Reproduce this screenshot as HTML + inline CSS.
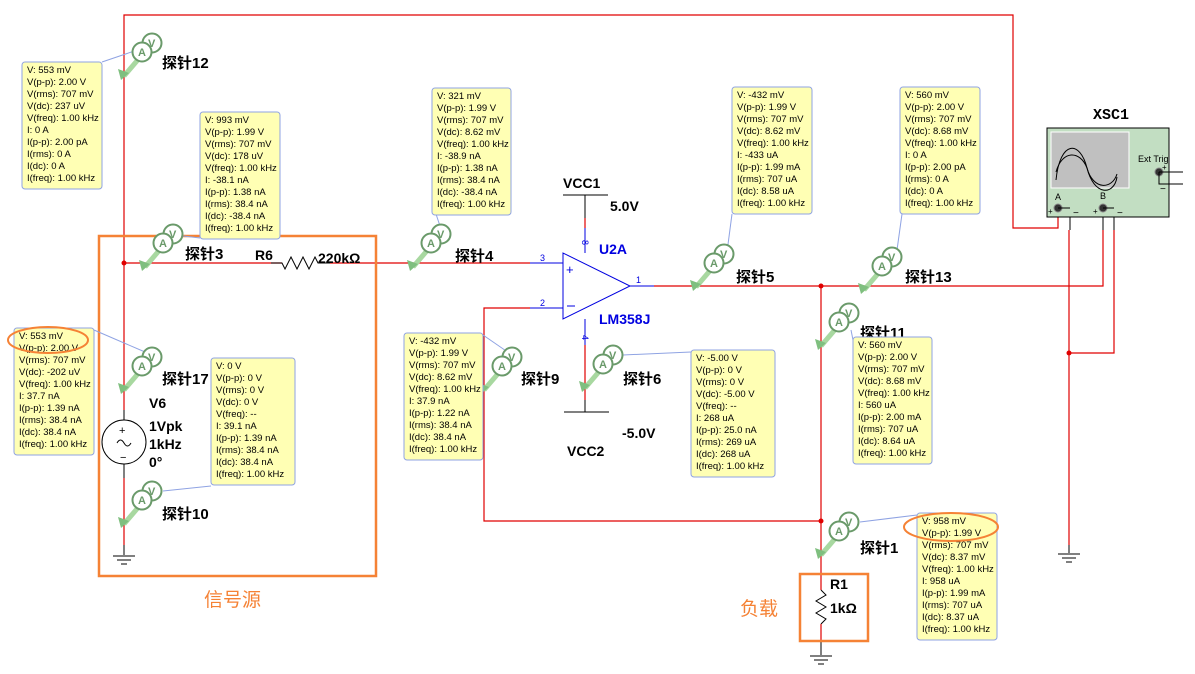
<!DOCTYPE html>
<html><head><meta charset="utf-8"><style>
html,body{margin:0;padding:0;background:#fff;}
svg{display:block;font-family:"Liberation Sans","Noto Sans CJK SC",sans-serif;}
.w{stroke:#e00000;stroke-width:1.2;fill:none}
.b{stroke:#000;stroke-width:1;fill:none}
.bl{stroke:#0000e0;stroke-width:1;fill:none}
.box{fill:#ffffb4;stroke:#8fa3e3;stroke-width:1}
.lead{stroke:#8fa3e3;stroke-width:1;fill:none}
.t{font-size:9.5px;fill:#000}
.lb{font-size:15px;font-weight:bold;fill:#000}
.nm{font-size:14px;font-weight:bold;fill:#000}
.pc{fill:#fff;stroke:#6a9a6a;stroke-width:2}
.pt{font-size:11px;fill:#6a9a6a;font-weight:bold}
</style></head><body>
<svg width="1195" height="674" viewBox="0 0 1195 674" xmlns="http://www.w3.org/2000/svg">
<defs>
<g id="probe">
 <line x1="0" y1="0" x2="18" y2="-21" stroke="#a8d8a0" stroke-width="5"/>
 <polygon points="-3,4 -6,-7 5,-3" fill="#7fbf7f"/>
 <circle cx="28" cy="-33" r="9.5" class="pc"/><text x="24" y="-29" class="pt">V</text>
 <circle cx="18" cy="-24" r="9.5" class="pc"/><text x="14" y="-20" class="pt">A</text>
</g>
</defs>
<!-- wires -->
<polyline class="w" points="124,410 124,15 1013,15 1013,228 1058,228 1058,210"/>
<line class="b" x1="124" y1="410" x2="124" y2="420"/>
<line class="b" x1="124" y1="464" x2="124" y2="478"/>
<line class="w" x1="124" y1="478" x2="124" y2="545"/>
<line class="b" x1="124" y1="545" x2="124" y2="555"/>
<line class="b" x1="113" y1="556" x2="135" y2="556"/><line class="b" x1="117" y1="560" x2="131" y2="560"/><line class="b" x1="121" y1="564" x2="127" y2="564"/>
<line class="w" x1="124" y1="263" x2="282" y2="263"/>
<polyline class="b" points="271,263 282,263 285,269 291,257 297,269 303,257 309,269 315,257 318,263 330,263"/>
<line class="w" x1="330" y1="263" x2="530" y2="263"/>
<line class="bl" x1="530" y1="263" x2="563" y2="263"/>
<polyline class="w" points="530,308 484,308 484,521 821,521"/>
<line class="bl" x1="530" y1="308" x2="563" y2="308"/>
<polygon class="bl" points="563,253 563,319 630,286"/>
<text x="566" y="274" fill="#0000e0" font-size="13">+</text>
<line x1="567" y1="306" x2="575" y2="306" stroke="#0000e0"/>
<line class="bl" x1="630" y1="286" x2="654" y2="286"/>
<polyline class="w" points="654,286 1103,286 1103,230"/>
<line class="b" x1="1103" y1="230" x2="1103" y2="210"/>
<line class="b" x1="563" y1="195" x2="608" y2="195"/>
<line class="b" x1="585" y1="195" x2="585" y2="218"/>
<line class="w" x1="585" y1="218" x2="585" y2="228"/>
<line class="bl" x1="585" y1="228" x2="585" y2="253"/>
<line class="bl" x1="585" y1="319" x2="585" y2="345"/>
<line class="w" x1="585" y1="345" x2="585" y2="400"/>
<line class="b" x1="585" y1="400" x2="585" y2="412"/>
<line class="b" x1="564" y1="412" x2="609" y2="412"/>
<line class="w" x1="821" y1="286" x2="821" y2="590"/>
<polyline class="b" points="821,590 826,595 816,601 826,607 816,613 826,619 821,624"/>
<line class="w" x1="821" y1="624" x2="821" y2="641"/>
<line class="b" x1="821" y1="641" x2="821" y2="655"/>
<line class="b" x1="810" y1="656" x2="832" y2="656"/><line class="b" x1="814" y1="660" x2="828" y2="660"/><line class="b" x1="818" y1="664" x2="824" y2="664"/>
<polyline class="w" points="1114,230 1114,353 1069,353"/>
<line class="b" x1="1114" y1="208" x2="1114" y2="230"/>
<line class="b" x1="1070" y1="208" x2="1070" y2="230"/>
<line class="w" x1="1069" y1="230" x2="1069" y2="545"/>
<line class="b" x1="1069" y1="545" x2="1069" y2="553"/>
<line class="b" x1="1058" y1="554" x2="1080" y2="554"/><line class="b" x1="1062" y1="558" x2="1076" y2="558"/><line class="b" x1="1066" y1="562" x2="1072" y2="562"/>
<g fill="#e00000"><circle cx="124" cy="263" r="2.5"/><circle cx="821" cy="286" r="2.5"/><circle cx="821" cy="521" r="2.5"/><circle cx="1069" cy="353" r="2.5"/></g>
<!-- source -->
<circle cx="124" cy="442" r="22" fill="#fff" stroke="#000"/>
<text x="119" y="434" font-size="11">+</text><text x="120" y="461" font-size="11">−</text>
<path d="M117,443 q3.5,-6 7,0 t7,0" class="b"/>
<text x="149" y="408" class="nm">V6</text><text x="149" y="431" class="nm">1Vpk</text><text x="149" y="449" class="nm">1kHz</text><text x="149" y="467" class="nm">0°</text>
<!-- labels -->
<text x="255" y="260" class="nm">R6</text><text x="318" y="263" class="nm">220kΩ</text>
<text x="563" y="188" class="nm">VCC1</text><text x="610" y="211" class="nm">5.0V</text>
<text x="599" y="254" class="nm" style="fill:#0000e0">U2A</text>
<text x="599" y="324" class="nm" style="fill:#0000e0">LM358J</text>
<text x="567" y="456" class="nm">VCC2</text><text x="622" y="438" class="nm">-5.0V</text>
<g font-size="9" fill="#0000e0"><text x="540" y="261">3</text><text x="540" y="306">2</text><text x="636" y="283">1</text>
<text x="582" y="240" transform="rotate(90 582 240)">8</text><text x="582" y="335" transform="rotate(90 582 335)">4</text></g>
<text x="830" y="589" class="nm">R1</text><text x="830" y="613" class="nm">1kΩ</text>
<!-- scope -->
<text x="1093" y="119" font-family="Liberation Mono,monospace" font-weight="bold" font-size="15">XSC1</text>
<rect x="1047" y="128" width="122" height="89" fill="#c2dec2" stroke="#000"/>
<rect x="1051" y="132" width="78" height="56" fill="#c0c0c0" stroke="#fff"/>
<path d="M1056,180 C1060,140 1080,140 1087,168 C1094,196 1114,196 1117,177" class="b"/>
<path d="M1056,172 C1062,150 1080,150 1087,168 C1093,190 1112,190 1117,174" class="b"/>
<text x="1138" y="162" font-size="9">Ext Trig</text>
<circle cx="1159" cy="172" r="4" fill="#333" stroke="#888"/>
<polyline class="b" points="1159,172 1183,172"/><polyline class="b" points="1159,172 1159,184 1183,184"/>
<text x="1055" y="200" font-size="9">A</text><text x="1100" y="199" font-size="9">B</text>
<circle cx="1058" cy="208" r="4" fill="#333" stroke="#888"/><circle cx="1103" cy="208" r="4" fill="#333" stroke="#888"/>
<polyline class="b" points="1058,208 1070,208"/><polyline class="b" points="1103,208 1114,208"/>
<text x="1048" y="214" font-size="8">+</text><text x="1073" y="216" font-size="10">−</text>
<text x="1093" y="214" font-size="8">+</text><text x="1117" y="216" font-size="10">−</text>
<text x="1162" y="170" font-size="8">+</text><text x="1160" y="192" font-size="10">−</text>
<!-- orange -->
<rect x="99" y="236" width="277" height="340" fill="none" stroke="#f58235" stroke-width="2.5"/>
<rect x="800" y="574" width="68" height="67" fill="none" stroke="#f58235" stroke-width="2.5"/>
<text x="204" y="606" font-size="19" fill="#f58235">信号源</text>
<text x="740" y="615" font-size="19" fill="#f58235">负载</text>
<!-- leaders -->
<g class="lead">
<line x1="102" y1="62" x2="152" y2="45"/><line x1="200" y1="238" x2="175" y2="235"/>
<line x1="436" y1="214" x2="442" y2="232"/><line x1="732" y1="214" x2="727" y2="252"/>
<line x1="902" y1="214" x2="897" y2="250"/><line x1="853" y1="340" x2="851" y2="330"/>
<line x1="483" y1="335" x2="512" y2="355"/><line x1="691" y1="352" x2="623" y2="355"/>
<line x1="94" y1="330" x2="145" y2="352"/><line x1="211" y1="486" x2="163" y2="491"/>
<line x1="917" y1="515" x2="860" y2="522"/>
</g>
<!-- probes -->
<use href="#probe" x="124" y="76"/><use href="#probe" x="145" y="267"/><use href="#probe" x="413" y="267"/>
<use href="#probe" x="696" y="287"/><use href="#probe" x="864" y="290"/><use href="#probe" x="821" y="346"/>
<use href="#probe" x="484" y="390"/><use href="#probe" x="585" y="388"/><use href="#probe" x="124" y="390"/>
<use href="#probe" x="124" y="524"/><use href="#probe" x="821" y="555"/>
<g class="lb">
<text x="162" y="68">探针12</text><text x="185" y="259">探针3</text><text x="455" y="261">探针4</text>
<text x="736" y="282">探针5</text><text x="905" y="282">探针13</text><text x="860" y="338">探针11</text>
<text x="521" y="384">探针9</text><text x="623" y="384">探针6</text><text x="162" y="384">探针17</text>
<text x="162" y="519">探针10</text><text x="860" y="553">探针1</text>
</g>
<!-- info boxes -->
<g class="t">
<rect class="box" x="22" y="62" width="80" height="127" rx="3"/>
<text x="27" y="73">V: 553 mV</text><text x="27" y="85">V(p-p): 2.00 V</text><text x="27" y="97">V(rms): 707 mV</text><text x="27" y="109">V(dc): 237 uV</text><text x="27" y="121">V(freq): 1.00 kHz</text><text x="27" y="133">I: 0 A</text><text x="27" y="145">I(p-p): 2.00 pA</text><text x="27" y="157">I(rms): 0 A</text><text x="27" y="169">I(dc): 0 A</text><text x="27" y="181">I(freq): 1.00 kHz</text>
<rect class="box" x="200" y="112" width="80" height="127" rx="3"/>
<text x="205" y="123">V: 993 mV</text><text x="205" y="135">V(p-p): 1.99 V</text><text x="205" y="147">V(rms): 707 mV</text><text x="205" y="159">V(dc): 178 uV</text><text x="205" y="171">V(freq): 1.00 kHz</text><text x="205" y="183">I: -38.1 nA</text><text x="205" y="195">I(p-p): 1.38 nA</text><text x="205" y="207">I(rms): 38.4 nA</text><text x="205" y="219">I(dc): -38.4 nA</text><text x="205" y="231">I(freq): 1.00 kHz</text>
<rect class="box" x="432" y="88" width="79" height="127" rx="3"/>
<text x="437" y="99">V: 321 mV</text><text x="437" y="111">V(p-p): 1.99 V</text><text x="437" y="123">V(rms): 707 mV</text><text x="437" y="135">V(dc): 8.62 mV</text><text x="437" y="147">V(freq): 1.00 kHz</text><text x="437" y="159">I: -38.9 nA</text><text x="437" y="171">I(p-p): 1.38 nA</text><text x="437" y="183">I(rms): 38.4 nA</text><text x="437" y="195">I(dc): -38.4 nA</text><text x="437" y="207">I(freq): 1.00 kHz</text>
<rect class="box" x="732" y="87" width="80" height="127" rx="3"/>
<text x="737" y="98">V: -432 mV</text><text x="737" y="110">V(p-p): 1.99 V</text><text x="737" y="122">V(rms): 707 mV</text><text x="737" y="134">V(dc): 8.62 mV</text><text x="737" y="146">V(freq): 1.00 kHz</text><text x="737" y="158">I: -433 uA</text><text x="737" y="170">I(p-p): 1.99 mA</text><text x="737" y="182">I(rms): 707 uA</text><text x="737" y="194">I(dc): 8.58 uA</text><text x="737" y="206">I(freq): 1.00 kHz</text>
<rect class="box" x="900" y="87" width="80" height="127" rx="3"/>
<text x="905" y="98">V: 560 mV</text><text x="905" y="110">V(p-p): 2.00 V</text><text x="905" y="122">V(rms): 707 mV</text><text x="905" y="134">V(dc): 8.68 mV</text><text x="905" y="146">V(freq): 1.00 kHz</text><text x="905" y="158">I: 0 A</text><text x="905" y="170">I(p-p): 2.00 pA</text><text x="905" y="182">I(rms): 0 A</text><text x="905" y="194">I(dc): 0 A</text><text x="905" y="206">I(freq): 1.00 kHz</text>
<rect class="box" x="853" y="337" width="79" height="127" rx="3"/>
<text x="858" y="348">V: 560 mV</text><text x="858" y="360">V(p-p): 2.00 V</text><text x="858" y="372">V(rms): 707 mV</text><text x="858" y="384">V(dc): 8.68 mV</text><text x="858" y="396">V(freq): 1.00 kHz</text><text x="858" y="408">I: 560 uA</text><text x="858" y="420">I(p-p): 2.00 mA</text><text x="858" y="432">I(rms): 707 uA</text><text x="858" y="444">I(dc): 8.64 uA</text><text x="858" y="456">I(freq): 1.00 kHz</text>
<rect class="box" x="404" y="333" width="79" height="127" rx="3"/>
<text x="409" y="344">V: -432 mV</text><text x="409" y="356">V(p-p): 1.99 V</text><text x="409" y="368">V(rms): 707 mV</text><text x="409" y="380">V(dc): 8.62 mV</text><text x="409" y="392">V(freq): 1.00 kHz</text><text x="409" y="404">I: 37.9 nA</text><text x="409" y="416">I(p-p): 1.22 nA</text><text x="409" y="428">I(rms): 38.4 nA</text><text x="409" y="440">I(dc): 38.4 nA</text><text x="409" y="452">I(freq): 1.00 kHz</text>
<rect class="box" x="691" y="350" width="84" height="127" rx="3"/>
<text x="696" y="361">V: -5.00 V</text><text x="696" y="373">V(p-p): 0 V</text><text x="696" y="385">V(rms): 0 V</text><text x="696" y="397">V(dc): -5.00 V</text><text x="696" y="409">V(freq): --</text><text x="696" y="421">I: 268 uA</text><text x="696" y="433">I(p-p): 25.0 nA</text><text x="696" y="445">I(rms): 269 uA</text><text x="696" y="457">I(dc): 268 uA</text><text x="696" y="469">I(freq): 1.00 kHz</text>
<rect class="box" x="14" y="328" width="80" height="127" rx="3"/>
<text x="19" y="339">V: 553 mV</text><text x="19" y="351">V(p-p): 2.00 V</text><text x="19" y="363">V(rms): 707 mV</text><text x="19" y="375">V(dc): -202 uV</text><text x="19" y="387">V(freq): 1.00 kHz</text><text x="19" y="399">I: 37.7 nA</text><text x="19" y="411">I(p-p): 1.39 nA</text><text x="19" y="423">I(rms): 38.4 nA</text><text x="19" y="435">I(dc): 38.4 nA</text><text x="19" y="447">I(freq): 1.00 kHz</text>
<rect class="box" x="211" y="358" width="84" height="127" rx="3"/>
<text x="216" y="369">V: 0 V</text><text x="216" y="381">V(p-p): 0 V</text><text x="216" y="393">V(rms): 0 V</text><text x="216" y="405">V(dc): 0 V</text><text x="216" y="417">V(freq): --</text><text x="216" y="429">I: 39.1 nA</text><text x="216" y="441">I(p-p): 1.39 nA</text><text x="216" y="453">I(rms): 38.4 nA</text><text x="216" y="465">I(dc): 38.4 nA</text><text x="216" y="477">I(freq): 1.00 kHz</text>
<rect class="box" x="917" y="513" width="80" height="127" rx="3"/>
<text x="922" y="524">V: 958 mV</text><text x="922" y="536">V(p-p): 1.99 V</text><text x="922" y="548">V(rms): 707 mV</text><text x="922" y="560">V(dc): 8.37 mV</text><text x="922" y="572">V(freq): 1.00 kHz</text><text x="922" y="584">I: 958 uA</text><text x="922" y="596">I(p-p): 1.99 mA</text><text x="922" y="608">I(rms): 707 uA</text><text x="922" y="620">I(dc): 8.37 uA</text><text x="922" y="632">I(freq): 1.00 kHz</text>
</g>
<ellipse cx="48" cy="340" rx="40" ry="13" fill="none" stroke="#f58235" stroke-width="2"/>
<ellipse cx="951" cy="527" rx="47" ry="14" fill="none" stroke="#f58235" stroke-width="2"/>
</svg>
</body></html>
